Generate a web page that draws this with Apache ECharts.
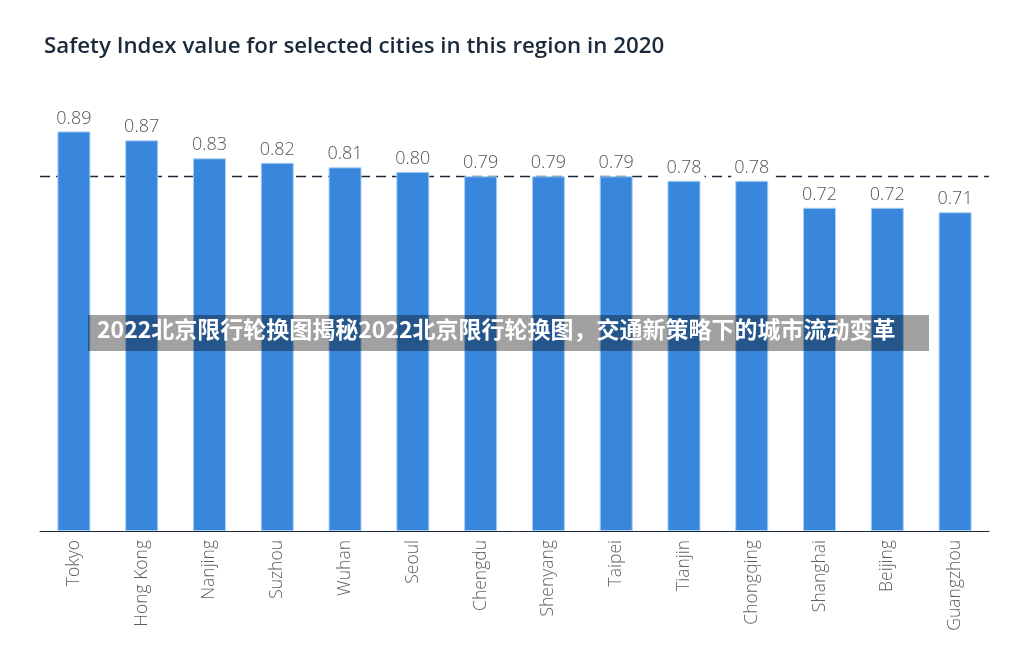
<!DOCTYPE html>
<html><head><meta charset="utf-8">
<script src="https://cdn.jsdelivr.net/npm/echarts@6/dist/echarts.min.js"></script>
<style>html,body{margin:0;padding:0;background:#fff}#c{width:1018px;height:665px}</style>
</head><body><div id="c"></div>
<script>
const titleText = 'Safety Index value for selected cities in this region in 2020';
const cities = ['Tokyo','Hong Kong','Nanjing','Suzhou','Wuhan','Seoul','Chengdu','Shenyang','Taipei','Tianjin','Chongqing','Shanghai','Beijing','Guangzhou'];
const safetyIndex = [0.89,0.87,0.83,0.82,0.81,0.80,0.79,0.79,0.79,0.78,0.78,0.72,0.72,0.71];
const bannerText = '2022北京限行轮换图揭秘2022北京限行轮换图，交通新策略下的城市流动变革';

const chart = echarts.init(document.getElementById('c'));
chart.setOption({
  animation: false,
  title: {
    text: titleText, left: 39, top: 31,
    textStyle: {fontFamily: 'Open Sans', fontWeight: 600, fontSize: 22.3, color: '#1b2a3b'}
  },
  grid: {left: 40, right: 29, top: 82, bottom: 134},
  xAxis: {
    type: 'category', data: cities,
    axisLine: {lineStyle: {color: '#1b2a3b', width: 1}},
    axisTick: {show: false},
    axisLabel: {rotate: 90, color: '#5f5f5f', fontFamily: 'Open Sans', fontWeight: 300, fontSize: 17.5, margin: 9, interval: 0}
  },
  yAxis: {type: 'value', min: 0, max: 1, show: false, splitLine: {show: false}},
  series: [{
    type: 'bar', data: safetyIndex, barWidth: 33, z: 5,
    itemStyle: {color: '#3987dd', borderColor: '#a9d0f5', borderWidth: 1},
    label: {
      show: true, position: 'top', distance: 1,
      formatter: p => p.value.toFixed(2),
      color: '#555', fontFamily: 'Open Sans', fontWeight: 300, fontSize: 18,
      backgroundColor: '#fff', padding: [0, 3, 3, 3]
    },
    markLine: {
      silent: true, symbol: 'none', z: 1,
      label: {show: false},
      lineStyle: {color: '#1b2a3b', type: [10, 6], width: 1.3},
      data: [{type: 'average'}]
    }
  }],
  graphic: {
    elements: [
      {type: 'rect', left: 88, top: 315, z: 100, shape: {width: 841, height: 36}, style: {fill: 'rgba(0,0,0,0.37)'}},
      {type: 'text', left: 97, top: 318, z: 101, style: {text: bannerText, fill: '#fff', font: 'bold 23px "Noto Sans CJK SC"'}}
    ]
  }
});
</script></body></html>
